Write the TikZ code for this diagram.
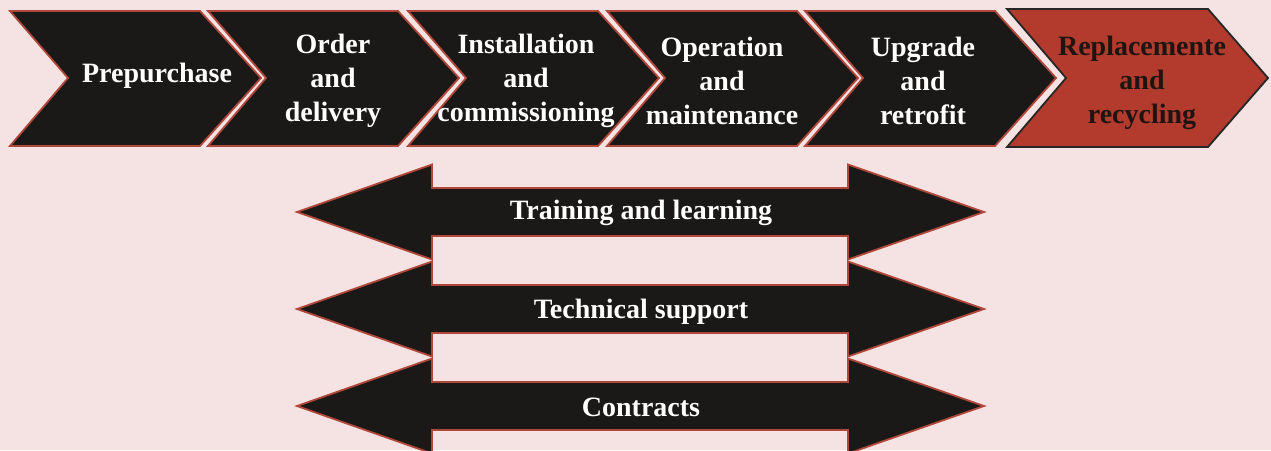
\documentclass[tikz,border=0pt]{standalone}
\usepackage{fontspec}
\setmainfont{Liberation Serif}
\definecolor{bg}{HTML}{F5E3E3}
\definecolor{blk}{HTML}{1B1917}
\definecolor{edge}{HTML}{B0473B}
\definecolor{redfill}{HTML}{B23B2D}
\definecolor{redtext}{HTML}{1E1412}
\tikzset{
  chev/.style={fill=blk, draw=edge, line width=1.8pt, line join=miter},
  redchev/.style={fill=redfill, draw=black!85, line width=1.8pt, line join=miter},
  dblarrow/.style={fill=blk, draw=edge, line width=1.8pt, line join=miter},
  lbl/.style={text=white, font=\bfseries\fontsize{28}{34}\selectfont, align=center, inner sep=0pt},
}
\begin{document}
\begin{tikzpicture}[x=1pt,y=-1pt]
\fill[bg] (0,0) rectangle (1271,450);
\useasboundingbox (0,0) rectangle (1271,450);
% top chevrons
\foreach \L in {10,208,408,607,805}
  \draw[chev] (\L,11) -- ++(190,0) -- ++(61,67) -- ++(-61,68) -- ++(-190,0) -- ++(58,-68) -- cycle;
\draw[redchev] (1007,9) -- (1208,9) -- (1268,78) -- (1208,147) -- (1007,147) -- (1066,78) -- cycle;
% chevron labels
\node[lbl] (c1) at (157,76) {Prepurchase};
\node[lbl] (c2) at (333,81) {Order\\and\\delivery};
\node[lbl] (c3) at (526,81) {Installation\\and\\commissioning};
\node[lbl] (c4) at (722,81) {Operation\\and\\maintenance};
\node[lbl] (c5) at (923,81) {Upgrade\\and\\retrofit};
\node[lbl, text=redtext] (c6) at (1142,83) {Replacemente\\and\\recycling};
% double arrows
\foreach \c in {212,309,406}
  \draw[dblarrow] (297,\c) -- (432,\c-47.5) -- (432,\c-24) -- (848,\c-24) -- (848,\c-47.5)
     -- (984,\c) -- (848,\c+47.5) -- (848,\c+24) -- (432,\c+24) -- (432,\c+47.5) -- cycle;
\node[lbl] (a1) at (641,213) {Training and learning};
\node[lbl] (a2) at (641,312) {Technical support};
\node[lbl] (a3) at (641,407) {Contracts};
\end{tikzpicture}
\end{document}
